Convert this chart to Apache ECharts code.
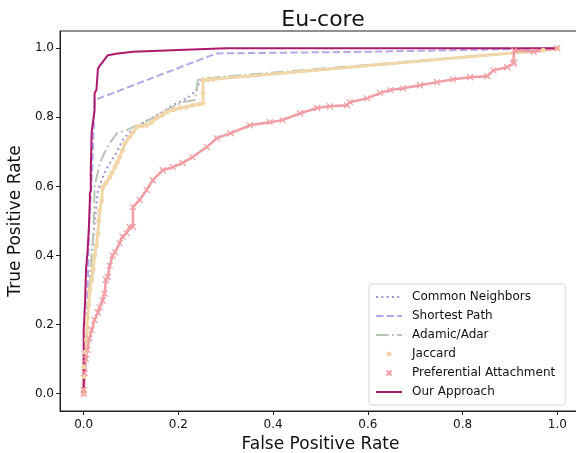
<!DOCTYPE html>
<html>
<head>
<meta charset="utf-8">
<script src="https://cdn.jsdelivr.net/npm/echarts@6/dist/echarts.min.js"></script>
<style>
  html, body { margin: 0; padding: 0; background: #fff; }
  #chart { width: 576px; height: 453px; }
</style>
</head>
<body>
<div id="chart"></div>
<script>
var ticks = [0, 0.2, 0.4, 0.6, 0.8, 1.0];

var commonNeighbors = [[0,0],[0.003,0.1],[0.005,0.17],[0.01,0.27],[0.014,0.35],[0.018,0.42],[0.025,0.52],[0.03,0.59],[0.044,0.64],[0.055,0.667],[0.07,0.70],[0.082,0.734],[0.097,0.757],[0.133,0.79],[0.16,0.81],[0.188,0.835],[0.218,0.855],[0.239,0.879],[0.245,0.908],[0.273,0.91],[0.97,0.994],[1,1]];

var shortestPath = [[0,0],[0.005,0.1],[0.008,0.3],[0.012,0.5],[0.016,0.6],[0.02,0.72],[0.023,0.85],[0.28,0.985],[0.6,0.99],[1,1]];

var adamicAdar = [[0,0],[0.003,0.1],[0.007,0.2],[0.012,0.3],[0.016,0.38],[0.02,0.45],[0.022,0.53],[0.023,0.6],[0.034,0.667],[0.044,0.697],[0.055,0.725],[0.07,0.754],[0.091,0.763],[0.112,0.777],[0.146,0.798],[0.182,0.827],[0.209,0.844],[0.235,0.85],[0.241,0.908],[0.25,0.913],[0.273,0.915],[0.97,0.994],[1,1]];

var jaccard = [[0,0],[0,0.01],[0,0.05],[0,0.078],[0.003,0.12],[0.006,0.156],[0.007,0.19],[0.008,0.22],[0.011,0.26],[0.013,0.3],[0.017,0.33],[0.02,0.36],[0.023,0.4],[0.027,0.43],[0.03,0.465],[0.032,0.5],[0.034,0.532],[0.038,0.56],[0.04,0.598],[0.047,0.61],[0.055,0.627],[0.06,0.64],[0.066,0.656],[0.071,0.67],[0.076,0.685],[0.082,0.705],[0.087,0.725],[0.097,0.743],[0.104,0.757],[0.112,0.772],[0.122,0.775],[0.133,0.777],[0.143,0.785],[0.154,0.798],[0.165,0.806],[0.175,0.815],[0.19,0.822],[0.203,0.827],[0.217,0.83],[0.23,0.835],[0.243,0.838],[0.252,0.841],[0.252,0.87],[0.252,0.908],[0.262,0.909],[0.273,0.91],[0.97,0.994],[1,1]];

var prefAttachment = [[0,0],[0,0.01],[0.002,0.06],[0.005,0.1],[0.008,0.127],[0.012,0.16],[0.017,0.185],[0.023,0.214],[0.03,0.235],[0.034,0.25],[0.04,0.27],[0.044,0.29],[0.047,0.33],[0.051,0.338],[0.055,0.37],[0.061,0.4],[0.066,0.41],[0.076,0.436],[0.082,0.455],[0.091,0.465],[0.097,0.483],[0.104,0.483],[0.104,0.54],[0.118,0.561],[0.133,0.59],[0.146,0.618],[0.167,0.647],[0.188,0.656],[0.209,0.668],[0.23,0.685],[0.26,0.714],[0.281,0.74],[0.31,0.754],[0.351,0.777],[0.393,0.786],[0.42,0.792],[0.457,0.812],[0.493,0.827],[0.52,0.832],[0.556,0.835],[0.562,0.844],[0.598,0.855],[0.626,0.87],[0.647,0.879],[0.674,0.884],[0.71,0.893],[0.746,0.902],[0.78,0.91],[0.816,0.916],[0.852,0.919],[0.865,0.936],[0.894,0.945],[0.907,0.956],[0.909,0.96],[0.909,0.994],[0.95,0.99],[1,1]];

var ourApproach = [[0,0],[0,0.05],[0,0.18],[0.003,0.18],[0.003,0.27],[0.005,0.36],[0.008,0.41],[0.011,0.48],[0.013,0.56],[0.013,0.58],[0.015,0.59],[0.015,0.65],[0.017,0.65],[0.017,0.76],[0.021,0.76],[0.023,0.82],[0.023,0.87],[0.027,0.88],[0.03,0.94],[0.034,0.95],[0.04,0.96],[0.051,0.98],[0.072,0.985],[0.104,0.99],[0.2,0.995],[0.3,1.0],[1,1]];

var xMark = 'path://M0,0L10,10M10,0L0,10';
var font = 'DejaVu Sans';
var noSymbol = {color: 'rgba(0,0,0,0)', borderColor: 'rgba(0,0,0,0)', borderWidth: 0};

var dom = document.getElementById('chart');
var myChart = echarts.init(dom, null, {renderer: 'canvas'});

var axisCommon = {
    type: 'value',
    min: -0.05,
    max: 1.05,
    splitLine: {show: false},
    axisLine: {onZero: false, lineStyle: {color: '#222', width: 1}},
    axisTick: {show: true, length: 4, customValues: ticks, lineStyle: {color: '#222'}},
    axisLabel: {
        customValues: ticks,
        color: '#111',
        fontFamily: font,
        fontSize: 12,
        formatter: function (v) { return v.toFixed(1); }
    },
    nameLocation: 'middle',
    nameTextStyle: {fontFamily: font, fontSize: 17, color: '#111'}
};

option = {
    animation: false,
    backgroundColor: '#fff',
    title: {
        text: 'Eu-core',
        left: 318,
        top: 4,
        textAlign: 'center',
        textStyle: {fontFamily: font, fontSize: 22, fontWeight: 'normal', color: '#111'}
    },
    grid: {
        left: 60,
        top: 31,
        width: 521,
        height: 380,
        containLabel: false,
        outerBoundsMode: 'none',
        show: true,
        borderColor: '#222',
        borderWidth: 1
    },
    xAxis: Object.assign({}, axisCommon, {name: 'False Positive Rate', nameGap: 18}),
    yAxis: Object.assign({}, axisCommon, {
        name: 'True Positive Rate',
        nameGap: 31,
        axisLabel: Object.assign({}, axisCommon.axisLabel, {margin: 6})
    }),
    legend: {
        orient: 'vertical',
        left: 369,
        top: 284,
        padding: [6, 10, 6, 6],
        itemWidth: 26,
        itemHeight: 5,
        itemGap: 5,
        backgroundColor: 'rgba(255,255,255,0.85)',
        borderColor: '#d6d6d6',
        borderWidth: 1,
        borderRadius: 3,
        textStyle: {fontFamily: font, fontSize: 12, color: '#111', lineHeight: 14, padding: [0, 0, 0, 5]},
        data: [
            {name: 'Common Neighbors', itemStyle: noSymbol},
            {name: 'Shortest Path', itemStyle: noSymbol},
            {name: 'Adamic/Adar', itemStyle: noSymbol},
            {name: 'Jaccard', icon: 'circle'},
            {name: 'Preferential Attachment', icon: xMark},
            {name: 'Our Approach', itemStyle: noSymbol}
        ]
    },
    series: [
        {
            name: 'Common Neighbors',
            type: 'line',
            data: commonNeighbors,
            symbol: 'none',
            lineStyle: {color: '#a48fd3', width: 2, type: [2, 3.3]},
            itemStyle: {color: '#a48fd3'}
        },
        {
            name: 'Shortest Path',
            type: 'line',
            data: shortestPath,
            symbol: 'none',
            lineStyle: {color: '#b2a9e6', width: 2, type: [7.4, 3.2]},
            itemStyle: {color: '#b2a9e6'}
        },
        {
            name: 'Adamic/Adar',
            type: 'line',
            data: adamicAdar,
            symbol: 'none',
            lineStyle: {color: '#b7c6b3', width: 2, type: [12.8, 3.2, 2, 3.2]},
            itemStyle: {color: '#b7c6b3'}
        },
        {
            name: 'Jaccard',
            type: 'line',
            data: jaccard,
            symbol: 'circle',
            symbolSize: 5,
            lineStyle: {color: '#f1d7a8', width: 3},
            itemStyle: {color: '#f1d7a8', borderWidth: 0}
        },
        {
            name: 'Preferential Attachment',
            type: 'line',
            data: prefAttachment,
            symbol: xMark,
            symbolSize: 6,
            lineStyle: {color: '#f29ca4', width: 2.5},
            itemStyle: {color: 'none', borderColor: '#f29ca4', borderWidth: 1.2}
        },
        {
            name: 'Our Approach',
            type: 'line',
            data: ourApproach,
            symbol: 'none',
            lineStyle: {color: '#ad1a6d', width: 2},
            itemStyle: {color: '#ad1a6d'}
        }
    ]
};

if (option && typeof option === 'object') {
    myChart.setOption(option, true);
}
</script>
</body>
</html>
